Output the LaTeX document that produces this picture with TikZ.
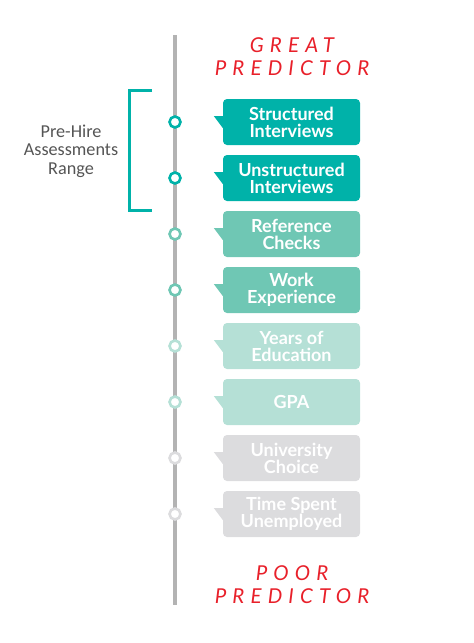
\documentclass[tikz,border=0pt]{standalone}
\usepackage{fontspec}
\setmainfont{Lato}
\newfontfamily\spacedfont[LetterSpace=30]{Lato}
\newfontfamily\sidefont{Carlito}
\definecolor{teal1}{HTML}{00B2A9}
\definecolor{teal2}{HTML}{6FC7B4}
\definecolor{teal3}{HTML}{B5E0D6}
\definecolor{grey4}{HTML}{DCDCDE}
\definecolor{axis}{HTML}{B3B3B3}
\definecolor{redt}{HTML}{E8202A}
\definecolor{sidetxt}{HTML}{555555}
\tikzset{
  x=1pt,y=-1pt,
  itembox/.style={rounded corners=4pt, minimum width=137pt, minimum height=46pt, inner sep=0pt,
    align=center, text=white, font=\fontsize{18}{17}\selectfont\bfseries},
  dot/.style={circle, draw=#1, line width=2.6pt, fill=white, minimum size=11pt, inner sep=0pt},
  headline/.style={text=redt, align=center, font=\spacedfont\itshape\fontsize{20.5}{23}\selectfont},
}
\newcommand{\predItem}[4]{%
  \node[itembox, fill=#3] (b#1) at (291.5,#2) {#4};
  \fill[#3] ([yshift=6pt]b#1.west) -- ++(-9,0) -- ([yshift=-6pt]b#1.west) -- cycle;
  \node[dot=#3] (d#1) at (175,#2) {};
}
\begin{document}
\begin{tikzpicture}
\useasboundingbox (0,0) rectangle (474,643);
\coordinate (top) at (175,35);
\coordinate (bot) at (175,605);
\draw[axis, line width=4pt] (top) -- (bot);
\node[headline] (great) at (292,57) {GREAT\\PREDICTOR};
\node[headline] (poor) at (292,585) {POOR\\PREDICTOR};
\predItem{1}{122}{teal1}{Structured\\Interviews}
\predItem{2}{178}{teal1}{Unstructured\\Interviews}
\predItem{3}{234}{teal2}{Reference\\Checks}
\predItem{4}{290}{teal2}{Work\\Experience}
\predItem{5}{346}{teal3}{Years of\\Education}
\predItem{6}{402}{teal3}{GPA}
\predItem{7}{458}{grey4}{University\\Choice}
\predItem{8}{514}{grey4}{Time Spent\\Unemployed}
\coordinate (bt) at (152,90);
\coordinate (bb) at (152,210);
\draw[teal1, line width=3pt] (bt) -- (129,90) -- (129,210) -- (bb);
\node[text=sidetxt, align=center, font=\sidefont\fontsize{18.2}{18.5}\selectfont] (side) at (71,151) {Pre-Hire\\Assessments\\Range};
\end{tikzpicture}
\end{document}
